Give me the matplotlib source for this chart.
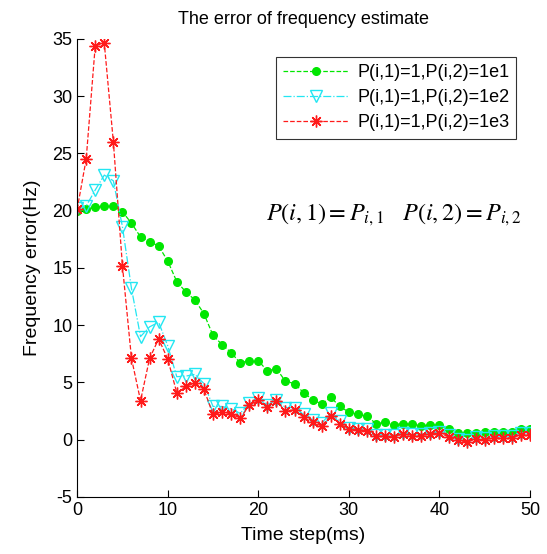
import matplotlib
matplotlib.use("Agg")
import matplotlib.pyplot as plt
import numpy as np

plt.rcParams['font.family'] = ['Liberation Sans', 'DejaVu Sans']
plt.rcParams['mathtext.fontset'] = 'stix'
plt.rcParams['axes.unicode_minus'] = False

# time steps (ms)
steps = np.arange(0, 51)

# P(i,2)=1e1
err_1e1 = [20.0, 20.1, 20.3, 20.4, 20.4, 19.9, 18.9, 17.7, 17.3, 16.9,
           15.6, 13.8, 12.9, 12.2, 11.0, 9.1, 8.3, 7.6, 6.7, 6.9,
           6.9, 6.0, 6.2, 5.1, 4.9, 4.1, 3.5, 3.1, 3.7, 2.9,
           2.4, 2.2, 2.05, 1.4, 1.5, 1.3, 1.4, 1.35, 1.2, 1.3,
           1.3, 0.9, 0.55, 0.55, 0.6, 0.65, 0.65, 0.65, 0.65, 0.9, 0.9]
# P(i,2)=1e2
err_1e2 = [20.2, 20.4, 21.8, 23.1, 22.6, 18.6, 13.2, 9.0, 9.85, 10.25,
           8.2, 5.5, 5.55, 5.7, 4.9, 2.9, 2.9, 2.7, 2.3, 3.2,
           3.6, 3.05, 3.5, 2.8, 2.8, 2.2, 1.75, 1.45, 2.3, 1.6,
           1.0, 0.95, 0.9, 0.45, 0.45, 0.4, 0.6, 0.5, 0.5, 0.6,
           0.7, 0.4, 0.1, 0.0, 0.2, 0.15, 0.3, 0.3, 0.3, 0.6, 0.6]
# P(i,2)=1e3
err_1e3 = [20.1, 24.5, 34.4, 34.6, 26.0, 15.2, 7.1, 3.4, 7.1, 8.8,
           7.05, 4.1, 4.65, 4.95, 4.4, 2.2, 2.4, 2.25, 1.85, 3.0,
           3.45, 2.85, 3.4, 2.5, 2.6, 1.95, 1.5, 1.2, 2.1, 1.4,
           0.9, 0.85, 0.8, 0.3, 0.3, 0.25, 0.5, 0.35, 0.35, 0.5,
           0.6, 0.25, -0.05, -0.2, 0.05, 0.0, 0.15, 0.15, 0.15, 0.45, 0.45]

labels = ['P(i,1)=1,P(i,2)=1e1', 'P(i,1)=1,P(i,2)=1e2', 'P(i,1)=1,P(i,2)=1e3']

fig = plt.figure(figsize=(5.47, 5.54), dpi=100)
ax = fig.add_axes([0.141, 0.103, 0.828, 0.827])

ax.plot(steps, err_1e1, '--', color='#00e600', lw=0.9, marker='o',
        markersize=5.5, markeredgecolor='#00e600', label=labels[0])
ax.plot(steps, err_1e2, '-.', color='#22e6f2', lw=0.9, marker='v',
        markersize=8.5, markerfacecolor='none', markeredgewidth=1.0,
        markeredgecolor='#22e6f2', label=labels[1])
ax.plot(steps, err_1e3, '--', color='#ff1a1a', lw=0.9, marker=(8, 2, 0),
        markersize=8.5, markeredgewidth=1.0, markeredgecolor='#ff1a1a',
        label=labels[2])

ax.set_xlim(0, 50)
ax.set_ylim(-5, 35)
ax.set_xticks(np.arange(0, 51, 10))
ax.set_yticks(np.arange(-5, 36, 5))
ax.tick_params(direction='in', length=5, labelsize=13, width=0.8)
ax.spines['top'].set_visible(False)
ax.spines['right'].set_visible(False)

ax.set_title('The error of frequency estimate', fontsize=13, pad=11)
ax.set_xlabel('Time step(ms)', fontsize=14, labelpad=6)
ax.set_ylabel('Frequency error(Hz)', fontsize=14, labelpad=8)

ax.text(35.0, 19.6, r'$P(i,1)=P_{i,1}\quad P(i,2)=P_{i,2}$', fontsize=17.5,
        ha='center', va='center')

leg = ax.legend(loc='upper right', fontsize=13, frameon=True, fancybox=False,
                edgecolor='black', handlelength=3.6, borderpad=0.4,
                labelspacing=0.45, handletextpad=0.5,
                bbox_to_anchor=(0.99, 0.98))
leg.get_frame().set_linewidth(0.8)

fig.savefig('out.png', dpi=100)
